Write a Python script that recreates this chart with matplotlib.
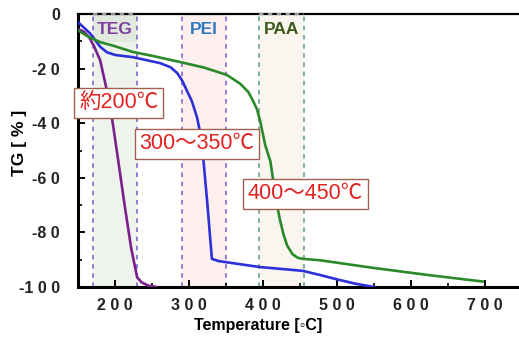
import matplotlib
matplotlib.use('Agg')
import matplotlib.pyplot as plt

# TG curves (temperature in degC, weight change in %)
TEG_T = [150, 158, 165, 172, 180, 189, 197, 204, 213, 222, 230, 236, 245, 256]
TEG_W = [-5.5, -6.5, -8.5, -12, -17, -28, -40, -53, -70, -86, -96.5, -98.3, -99.5, -100]

PEI_T = [150, 158, 166, 173, 180, 189, 200, 224, 261, 275, 284, 291, 297, 304,
         311, 317, 321, 325, 328, 331, 340, 360, 396, 430, 454, 477, 500, 525, 550]
PEI_W = [-3, -5, -7, -9.5, -12, -14, -15, -15.8, -18, -19.5, -21.6, -24.5, -28, -32,
         -38, -46, -58, -70, -80, -89.7, -90.5, -91.3, -92.7, -93.5, -94.1, -95.6, -97.2, -98.8, -100]

PAA_T = [150, 165, 180, 200, 224, 250, 288, 320, 351, 369, 380, 386, 392, 396, 403,
         410, 415, 419, 423, 428, 433, 440, 447, 454, 477, 549, 620, 697]
PAA_W = [-6, -8.5, -10.3, -11.8, -13.9, -15.3, -17.6, -19.6, -22.3, -25.5, -28.5, -31.5, -35, -39, -48,
         -54, -63, -70, -75.5, -81, -85, -88, -89.3, -89.7, -90.2, -93, -95.5, -98]

# decomposition windows
RANGES = [(170, 230), (290, 350), (395, 455)]
NAMES = ['TEG', 'PEI', 'PAA']
NOTES = ['約200℃', '300～350℃', '400～450℃']

XTICKS = [200, 300, 400, 500, 600, 700]
YTICKS = [0, -20, -40, -60, -80, -100]

LINE_COLORS = ['#7b1f8c', '#2d2fd8', '#2a8a2a']
NAME_COLORS = ['#7e3fa0', '#2e78bd', '#3b5a1c']
FILL_COLORS = ['#eef3ec', '#fcefee', '#faf5ee']
DASH_COLORS = ['#7a5ac8', '#7a5ac8', '#5a9a8a']

fig = plt.figure(figsize=(5.19, 3.38), dpi=100)
ax = fig.add_axes([78 / 519, 1 - 287 / 338, (519 - 78) / 519, (287 - 14) / 338])

for (a, b), fc, dc in zip(RANGES, FILL_COLORS, DASH_COLORS):
    ax.axvspan(a, b, color=fc, zorder=0, lw=0)
    ax.axvline(a, color=dc, ls=(0, (3, 3)), lw=1.1, zorder=1)
    ax.axvline(b, color=dc, ls=(0, (3, 3)), lw=1.1, zorder=1)

# grey tab behind the TEG label, dashed grey top edges
ax.fill_between(RANGES[0], -10.3, 0, color='#e1e8de', lw=0, zorder=0.5)
for i in (0, 2):
    ax.plot(RANGES[i], [0, 0], color='#9a9a9a', ls=(0, (2, 2)), lw=1.6,
            zorder=3, clip_on=False)

ax.plot(TEG_T, TEG_W, color=LINE_COLORS[0], lw=1.9, zorder=3)
ax.plot(PEI_T, PEI_W, color=LINE_COLORS[1], lw=1.9, zorder=3)
ax.plot(PAA_T, PAA_W, color=LINE_COLORS[2], lw=1.9, zorder=3)

for (a, b), name, nc in zip(RANGES, NAMES, NAME_COLORS):
    ax.text((a + b) / 2, -5.6, name, color=nc, fontsize=12.5, fontweight='bold',
            family='Liberation Sans', ha='center', va='center', zorder=4)

note_pos = [(205, -32.6), (311, -47.6), (457, -65.9)]
for (x, y), txt in zip(note_pos, NOTES):
    ax.text(x, y, txt, color='#e2231f', fontsize=15.5,
            family=['Liberation Sans', 'Noto Sans CJK JP'], ha='center', va='center', zorder=5,
            bbox=dict(boxstyle='square,pad=0.22', fc='white', ec='#a0604f', lw=1.0))

ax.set_xlim(150, 746)
ax.set_ylim(-100, 0)

ax.set_xticks(XTICKS)
ax.set_xticklabels([' '.join(str(t)) for t in XTICKS])
ax.set_xticks(range(250, 750, 100), minor=True)
ax.set_yticks(YTICKS)
ax.set_yticklabels([' '.join(str(t)).replace('- ', '-') for t in YTICKS])
ax.set_yticks(range(-90, 0, 20), minor=True)

for lab in ax.get_xticklabels() + ax.get_yticklabels():
    lab.set_fontfamily('Liberation Sans')
    lab.set_fontweight('bold')
    lab.set_fontsize(11.5)
    lab.set_color('#222222')

ax.tick_params(which='major', direction='in', length=5, width=1.4)
ax.tick_params(which='minor', direction='in', length=3, width=1.2)
ax.tick_params(axis='x', which='major', pad=8)
ax.tick_params(axis='y', which='major', pad=13)

ax.spines['right'].set_visible(False)
ax.spines['left'].set_linewidth(2.2)
ax.spines['bottom'].set_linewidth(2.2)
ax.spines['top'].set_linewidth(1.6)

ax.set_xlabel('Temperature [◦C]', fontsize=11.5, fontweight='bold',
              family=['Liberation Sans', 'DejaVu Sans'])
ax.set_ylabel('TG [ % ]', fontsize=12.5, fontweight='bold', family='Liberation Sans')
ax.xaxis.set_label_coords(0.408, -0.112)
ax.yaxis.set_label_coords(-0.116, 0.527)

fig.savefig('out.png', dpi=100)
